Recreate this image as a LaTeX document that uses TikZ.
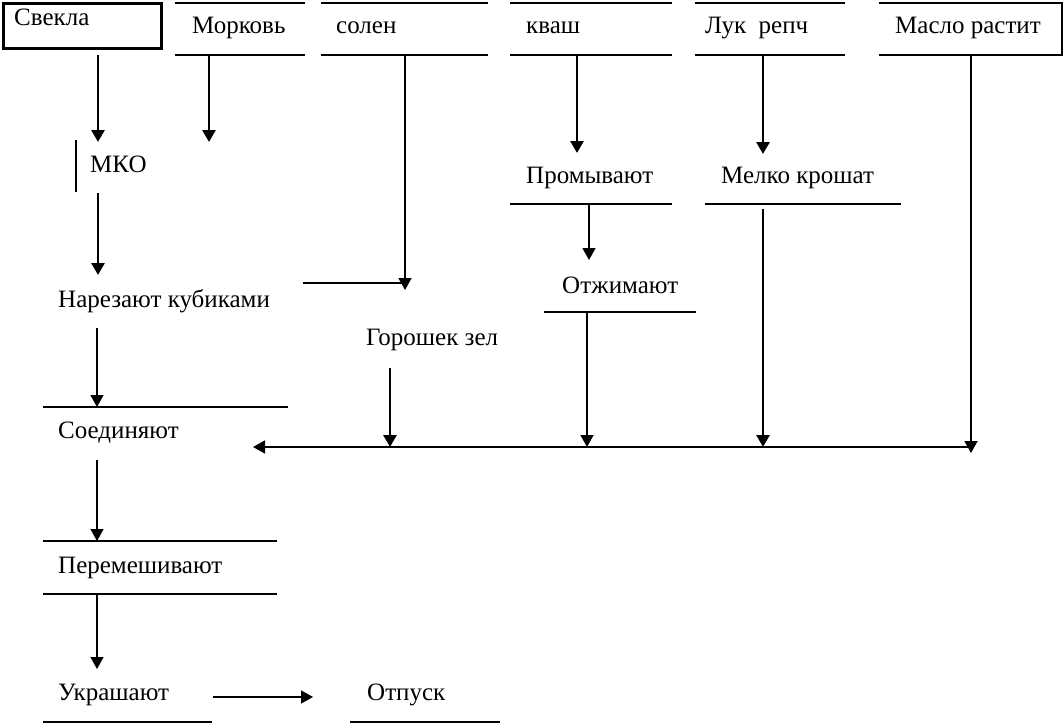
\documentclass[tikz,border=0pt]{standalone}
\usepackage{fontspec}
\setmainfont{Liberation Serif}
\usetikzlibrary{arrows.meta}
\begin{document}
\begin{tikzpicture}[x=1pt,y=-1pt,
  txt/.style={anchor=base west, inner sep=0pt, font=\fontsize{25}{29}\selectfont},
  frame/.style={line width=1.4pt},
  thk/.style={line width=2.8pt, -{Triangle[width=13pt,length=12pt]}},
  thn/.style={line width=1.5pt, -{Triangle[width=13pt,length=12pt]}},
  plain/.style={line width=1.5pt}
]
\useasboundingbox (0,0) rectangle (1063,723);
% ---- top row
\node[draw, line width=2.8pt, minimum width=158pt, minimum height=45pt, anchor=north west, inner sep=0pt] (sbox) at (2,2) {};
\node[txt] (svekla) at (14,25) {Свекла};
\draw[frame] (175,3) -- (305,3) (175,55) -- (305,55);
\node[txt] (morkov) at (192,33) {Морковь};
\draw[frame] (321,3) -- (488,3) (321,55) -- (488,55);
\node[txt] (solen) at (336,33) {солен};
\draw[frame] (510,3) -- (672,3) (510,55) -- (672,55);
\node[txt] (kvash) at (526,33) {кваш};
\draw[frame] (695,3) -- (845,3) (695,55) -- (845,55);
\node[txt] (luk) at (705,33) {Лук\ \ репч};
\draw[frame] (879,3) -- (1062,3) -- (1062,55) -- (879,55);
\node[txt] (maslo) at (895,33) {Масло растит};
% ---- middle texts
\node[txt] (mko) at (90,172) {МКО};
\draw[frame] (76,140) -- (76,192);
\node[txt] (narez) at (58,307) {Нарезают кубиками};
\node[txt] (gorosh) at (366,345) {Горошек зел};
\node[txt] (soed) at (58,438) {Соединяют};
\draw[frame] (43,407) -- (288,407);
\node[txt] (perem) at (58,573) {Перемешивают};
\draw[frame] (43,541) -- (277,541) (43,594) -- (277,594);
\node[txt] (ukr) at (58,700) {Украшают};
\draw[frame] (43,722) -- (212,722);
\node[txt] (otp) at (367,700) {Отпуск};
\draw[frame] (350,722) -- (500,722);
\node[txt] (prom) at (526,183) {Промывают};
\draw[frame] (510,204) -- (672,204);
\node[txt] (otzh) at (562,293) {Отжимают};
\draw[frame] (544,312) -- (696,312);
\node[txt] (melko) at (721,183) {Мелко крошат};
\draw[frame] (705,204) -- (901,204);
% ---- coordinates
\coordinate (s1) at (98,55);   \coordinate (s2) at (98,142);
\coordinate (m1) at (209,55);  \coordinate (m2) at (209,142);
\coordinate (k1) at (98,193);  \coordinate (k2) at (98,275);
\coordinate (n0) at (303,283); \coordinate (n1) at (405,283);
\coordinate (sl1) at (405,55); \coordinate (sl2) at (405,290);
\coordinate (g1) at (390,368); \coordinate (g2) at (390,447);
\coordinate (n2) at (97,328);  \coordinate (n3) at (97,407);
\coordinate (h1) at (973,447); \coordinate (h2) at (253,447);
\coordinate (c1) at (97,460);  \coordinate (c2) at (97,541);
\coordinate (p1) at (97,594);  \coordinate (p2) at (97,669);
\coordinate (u1) at (213,697); \coordinate (u2) at (313,697);
\coordinate (kv1) at (577,55); \coordinate (kv2) at (577,153);
\coordinate (pr1) at (589,204);\coordinate (pr2) at (589,260);
\coordinate (o1) at (587,312); \coordinate (o2) at (587,447);
\coordinate (l1) at (763,55);  \coordinate (l2) at (763,154);
\coordinate (ml1) at (763,209);\coordinate (ml2) at (763,447);
\coordinate (ms1) at (971,55); \coordinate (ms2) at (971,453);
% ---- connectors
\draw[thk] (s1) -- (s2);
\draw[thk] (m1) -- (m2);
\draw[thk] (k1) -- (k2);
\draw[plain] (n0) -- (n1);
\draw[thn] (sl1) -- (sl2);
\draw[thk] (g1) -- (g2);
\draw[thn] (n2) -- (n3);
\draw[thn] (h1) -- (h2);
\draw[thn] (c1) -- (c2);
\draw[thn] (p1) -- (p2);
\draw[thn] (u1) -- (u2);
\draw[thk] (kv1) -- (kv2);
\draw[thn] (pr1) -- (pr2);
\draw[thn] (o1) -- (o2);
\draw[thk] (l1) -- (l2);
\draw[thk] (ml1) -- (ml2);
\draw[thn] (ms1) -- (ms2);
\end{tikzpicture}
\end{document}
